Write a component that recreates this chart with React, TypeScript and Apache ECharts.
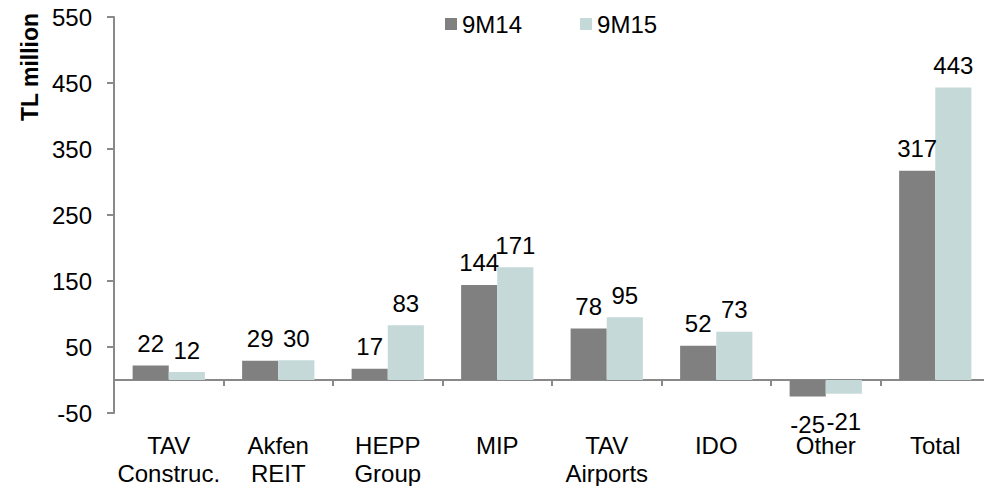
import React, { useEffect, useRef } from "react";
import * as echarts from "echarts";

const categories = ["TAV\nConstruc.", "Akfen\nREIT", "HEPP\nGroup", "MIP", "TAV\nAirports", "IDO", "Other", "Total"];
const series9M14 = [22, 29, 17, 144, 78, 52, -25, 317];
const series9M15 = [12, 30, 83, 171, 95, 73, -21, 443];
const seriesNames = ["9M14", "9M15"];
const yTicks = { min: -50, max: 550, interval: 100 };

const FONT = "'Liberation Sans', Arial, sans-serif";
const FS = 24;
const COLORS = ["#808080", "#c5d9d8"];

function toData(values: number[]) {
  return values.map((v) => ({
    value: v,
    label: v < 0 ? { position: "bottom", distance: 16 } : { position: "top", distance: 10 },
  }));
}

export default function App() {
  const ref = useRef<HTMLDivElement>(null);
  useEffect(() => {
    if (!ref.current) return;
    const chart = echarts.init(ref.current, undefined, { renderer: "svg" });
    const labelStyle = {
      show: true,
      fontFamily: FONT,
      fontSize: FS,
      color: "#000",
    };
    chart.setOption({
      animation: false,
      textStyle: { fontFamily: FONT },
      grid: {
        left: 114,
        right: -6,
        top: 17,
        bottom: 73,
        containLabel: false,
        outerBoundsMode: "none",
      },
      legend: {
        data: seriesNames,
        left: 440,
        top: 7,
        itemWidth: 12,
        itemHeight: 12,
        itemGap: 58,
        icon: "rect",
        textStyle: { fontFamily: FONT, fontSize: FS, color: "#000" },
      },
      graphic: [
        {
          type: "text",
          x: 30,
          y: 67,
          rotation: Math.PI / 2,
          style: {
            text: "TL million",
            font: `bold 23px ${FONT}`,
            fill: "#000",
            textAlign: "center",
            textVerticalAlign: "middle",
          },
        },
      ],
      xAxis: {
        type: "category",
        data: categories,
        axisLine: { show: true, onZero: true, lineStyle: { color: "#898989", width: 2 } },
        axisTick: { show: true, length: 6, lineStyle: { color: "#898989", width: 2 } },
        axisLabel: {
          fontFamily: FONT,
          fontSize: FS,
          color: "#000",
          lineHeight: 28,
          margin: 18,
          interval: 0,
        },
        splitLine: { show: false },
      },
      yAxis: {
        type: "value",
        min: yTicks.min,
        max: yTicks.max,
        interval: yTicks.interval,
        axisLine: { show: true, lineStyle: { color: "#898989", width: 2 } },
        axisTick: { show: true, length: 7, lineStyle: { color: "#898989", width: 2 } },
        axisLabel: { fontFamily: FONT, fontSize: FS, color: "#000", margin: 22 },
        splitLine: { show: false },
      },
      series: [
        {
          name: seriesNames[0],
          type: "bar",
          data: toData(series9M14),
          itemStyle: { color: COLORS[0] },
          barGap: "0%",
          barCategoryGap: "34%",
          label: labelStyle,
        },
        {
          name: seriesNames[1],
          type: "bar",
          data: toData(series9M15),
          itemStyle: { color: COLORS[1] },
          barGap: "0%",
          barCategoryGap: "34%",
          label: labelStyle,
        },
      ],
    });
    return () => chart.dispose();
  }, []);
  return (
    <div
      ref={ref}
      style={{ position: "absolute", left: 0, top: 0, width: 984, height: 486 }}
    />
  );
}
